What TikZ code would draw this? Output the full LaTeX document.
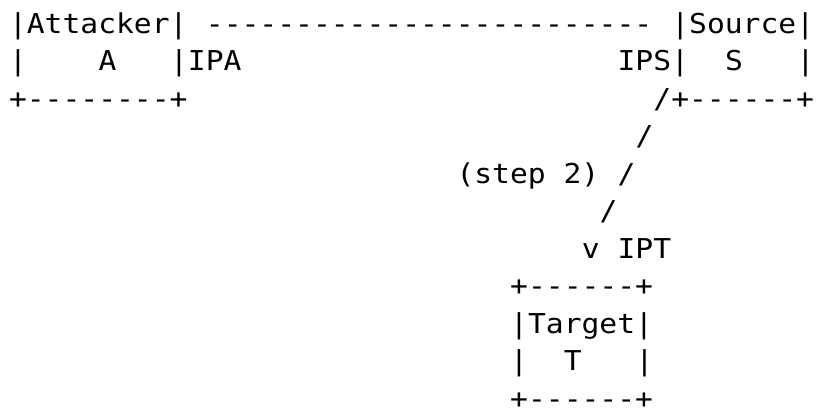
\documentclass[tikz,border=0pt]{standalone}
\usepackage{fontspec}
\setmonofont[FakeStretch=1.085]{DejaVu Sans Mono}
\newcommand{\colx}[1]{9+17.9*#1}
\newcommand{\rowy}[1]{33+37.5*(#1-1)}
\begin{document}
\begin{tikzpicture}[x=0.75pt,y=-0.75pt,
  ascii/.style={anchor=base west,inner sep=0pt,outer sep=0pt,
    font=\ttfamily\fontsize{20.5}{24}\selectfont,text=black}]
\useasboundingbox[fill=white] (0,0) rectangle (817,414);
% line 1
\node[ascii] (atop) at ({\colx{0}},{\rowy{1}}) {|Attacker|};
\node[ascii] (link) at ({\colx{11}},{\rowy{1}}) {-------------------------};
\node[ascii] (stop) at ({\colx{37}},{\rowy{1}}) {|Source|};
% line 2
\node[ascii] (al) at ({\colx{0}},{\rowy{2}}) {|};
\node[ascii] (alabel) at ({\colx{5}},{\rowy{2}}) {A};
\node[ascii] (ipa) at ({\colx{9}},{\rowy{2}}) {|IPA};
\node[ascii] (ips) at ({\colx{34}},{\rowy{2}}) {IPS|};
\node[ascii] (slabel) at ({\colx{40}},{\rowy{2}}) {S};
\node[ascii] (sr) at ({\colx{44}},{\rowy{2}}) {|};
% line 3
\node[ascii] (abot) at ({\colx{0}},{\rowy{3}}) {+--------+};
\node[ascii] (sbot) at ({\colx{36}},{\rowy{3}}) {/+------+};
% diagonal
\node[ascii] (d1) at ({\colx{35}},{\rowy{4}}) {/};
\node[ascii] (step) at ({\colx{25}},{\rowy{5}}) {(step 2)};
\node[ascii] (d2) at ({\colx{34}},{\rowy{5}}) {/};
\node[ascii] (d3) at ({\colx{33}},{\rowy{6}}) {/};
\node[ascii] (arrow) at ({\colx{32}},{\rowy{7}}) {v};
\node[ascii] (ipt) at ({\colx{34}},{\rowy{7}}) {IPT};
% target
\node[ascii] (ttop) at ({\colx{28}},{\rowy{8}}) {+------+};
\node[ascii] (tname) at ({\colx{28}},{\rowy{9}}) {|Target|};
\node[ascii] (tl) at ({\colx{28}},{\rowy{10}}) {|};
\node[ascii] (tlabel) at ({\colx{31}},{\rowy{10}}) {T};
\node[ascii] (tr) at ({\colx{35}},{\rowy{10}}) {|};
\node[ascii] (tbot) at ({\colx{28}},{\rowy{11}}) {+------+};
\end{tikzpicture}
\end{document}
